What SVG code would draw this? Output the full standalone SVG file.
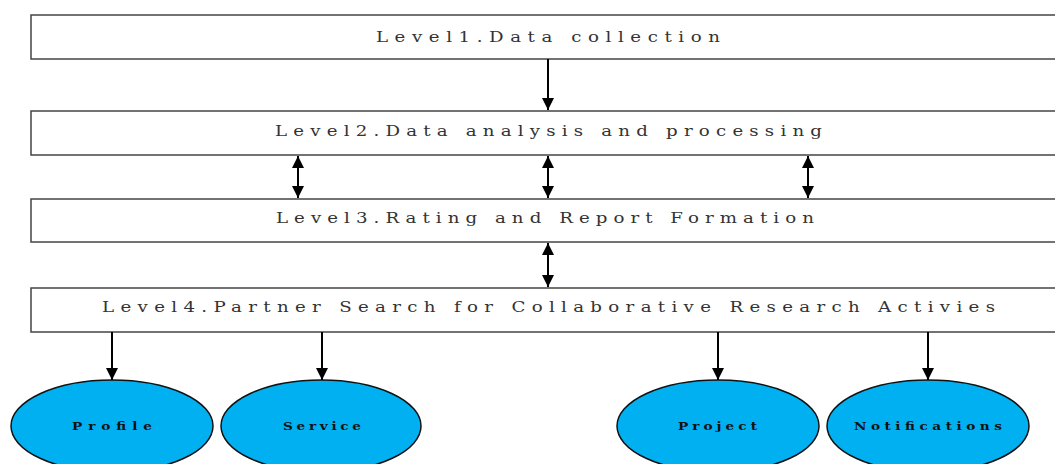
<svg xmlns="http://www.w3.org/2000/svg" width="1055" height="464" viewBox="0 0 1055 464">
<defs>
<marker id="ah" markerWidth="12" markerHeight="12" viewBox="0 0 12 12" refX="12" refY="6" orient="auto" markerUnits="userSpaceOnUse">
<path d="M0,0 L12,6 L0,12 Z" fill="#000"/>
</marker>
<marker id="as" markerWidth="12" markerHeight="12" viewBox="0 0 12 12" refX="0" refY="6" orient="auto" markerUnits="userSpaceOnUse">
<path d="M12,0 L0,6 L12,12 Z" fill="#000"/>
</marker>
</defs>
<style>
.box{fill:#fff;stroke:#444;stroke-width:1.5}
.lvl{font-family:"DejaVu Serif",serif;font-size:14px;fill:#333}
.ell{fill:#00B0F0;stroke:#111;stroke-width:1.5}
.lbl{font-family:"DejaVu Serif",serif;font-size:10.5px;fill:#111;font-weight:bold}
.c{stroke:#000;stroke-width:2;fill:none}
</style>
<rect width="1055" height="464" fill="#fff"/>
<g id="level1"><rect class="box" x="31" y="15" width="1040" height="44"/><text class="lvl" transform="scale(1.3 1)" x="289.2" y="42" textLength="264.6" lengthAdjust="spacing">Level1.Data collection</text></g>
<g id="level2"><rect class="box" x="31" y="111" width="1040" height="44"/><text class="lvl" transform="scale(1.3 1)" x="211.5" y="136" textLength="420.8" lengthAdjust="spacing">Level2.Data analysis and processing</text></g>
<g id="level3"><rect class="box" x="31" y="199" width="1040" height="43"/><text class="lvl" transform="scale(1.3 1)" x="212.3" y="223" textLength="413.8" lengthAdjust="spacing">Level3.Rating and Report Formation</text></g>
<g id="level4"><rect class="box" x="31" y="288" width="1040" height="44"/><text class="lvl" transform="scale(1.3 1)" x="78.5" y="312" textLength="686.9" lengthAdjust="spacing">Level4.Partner Search for Collaborative Research Activies</text></g>
<g id="profile"><ellipse class="ell" cx="112" cy="426" rx="101" ry="46"/><text class="lbl" transform="scale(1.3 1)" x="55.4" y="430" textLength="61.5" lengthAdjust="spacing">Profile</text></g>
<g id="service"><ellipse class="ell" cx="321" cy="426" rx="100" ry="46"/><text class="lbl" transform="scale(1.3 1)" x="217.7" y="430" textLength="60" lengthAdjust="spacing">Service</text></g>
<g id="project"><ellipse class="ell" cx="718" cy="426" rx="101" ry="46"/><text class="lbl" transform="scale(1.3 1)" x="521.5" y="430" textLength="60.8" lengthAdjust="spacing">Project</text></g>
<g id="notifications"><ellipse class="ell" cx="928" cy="426" rx="101" ry="46"/><text class="lbl" transform="scale(1.3 1)" x="656.9" y="430" textLength="113.8" lengthAdjust="spacing">Notifications</text></g>
<g id="connectors">
<line class="c" x1="548" y1="59" x2="548" y2="110" marker-end="url(#ah)"/>
<line class="c" x1="298" y1="156" x2="298" y2="198" marker-start="url(#as)" marker-end="url(#ah)"/>
<line class="c" x1="548" y1="156" x2="548" y2="198" marker-start="url(#as)" marker-end="url(#ah)"/>
<line class="c" x1="808" y1="156" x2="808" y2="198" marker-start="url(#as)" marker-end="url(#ah)"/>
<line class="c" x1="548" y1="243" x2="548" y2="287" marker-start="url(#as)" marker-end="url(#ah)"/>
<line class="c" x1="112" y1="332" x2="112" y2="380" marker-end="url(#ah)"/>
<line class="c" x1="322" y1="332" x2="322" y2="380" marker-end="url(#ah)"/>
<line class="c" x1="718" y1="332" x2="718" y2="380" marker-end="url(#ah)"/>
<line class="c" x1="928" y1="332" x2="928" y2="380" marker-end="url(#ah)"/>
</g>
</svg>
